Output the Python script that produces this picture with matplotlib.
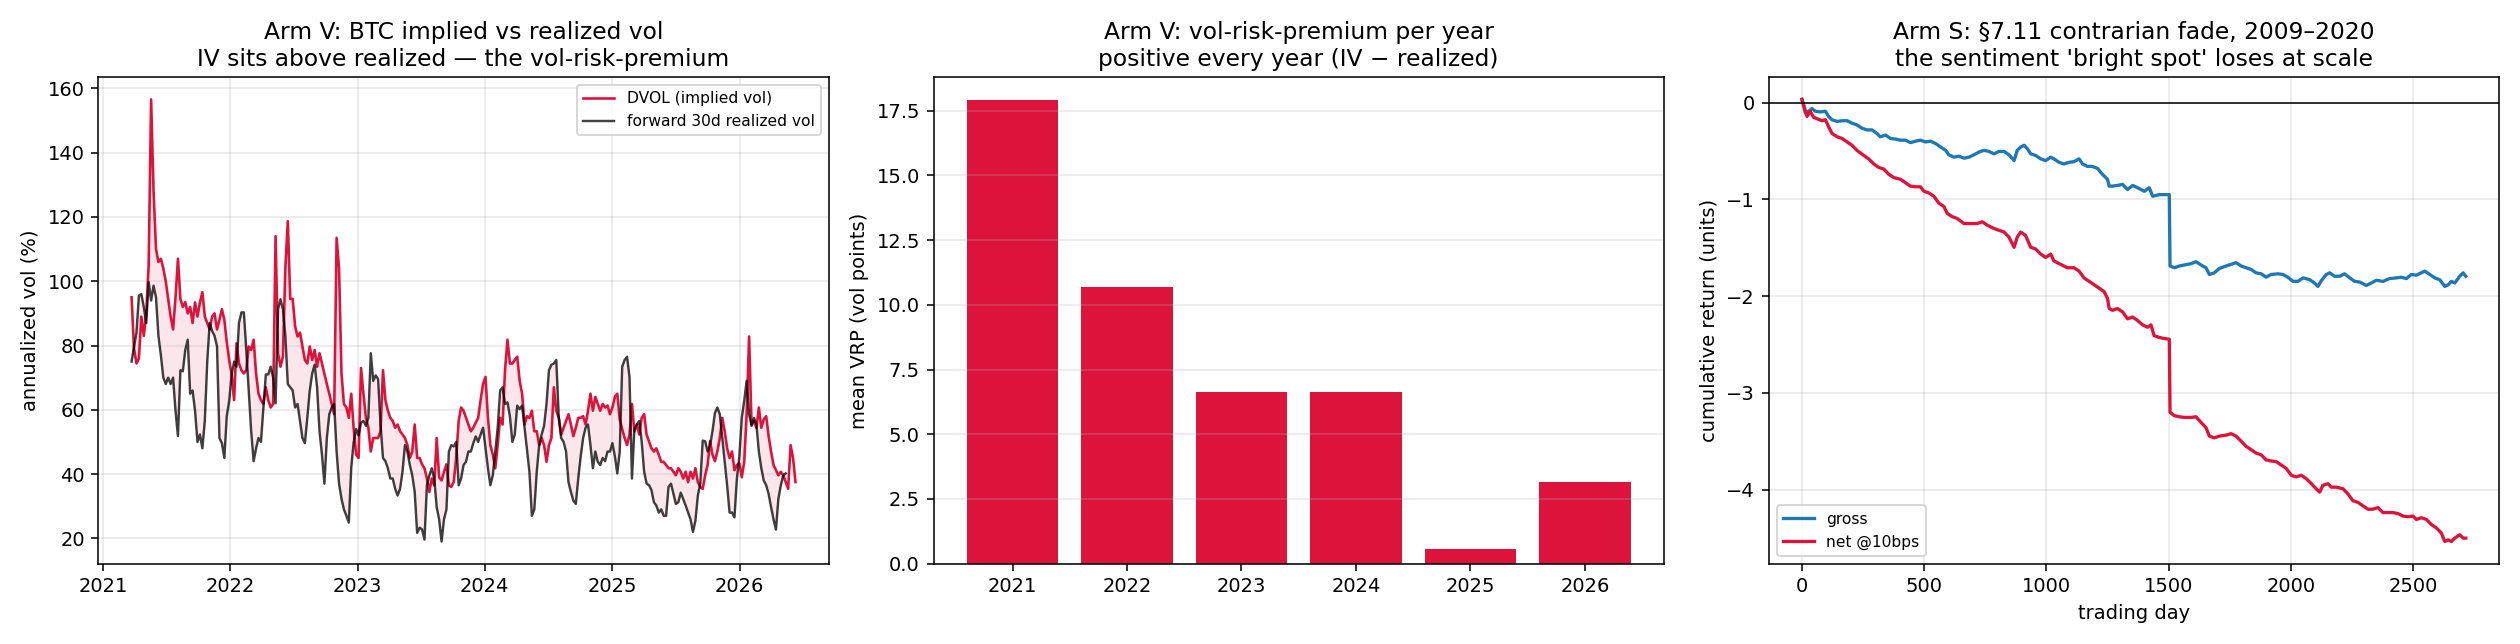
import numpy as np
import pandas as pd
import matplotlib
matplotlib.use('Agg')
import matplotlib.pyplot as plt

# --- Arm V: weekly DVOL vs forward 30d realized vol (from 2021-03-24) ---
dvol = [95, 79, 74.4, 76, 89, 83, 90, 105, 156.6, 128, 110, 106, 107, 104, 100, 94.5, 89, 85, 95, 107,
        94.5, 92, 93.5, 90, 92, 87, 93.4, 89, 93.4, 96.6, 89, 87, 85, 89, 90, 85, 88, 91.3, 88, 81,
        75.4, 71, 63, 80.7, 74.4, 72.3, 71.3, 72.3, 79.7, 78.6, 81.8, 71.3, 65, 63, 61.8, 67, 63, 60.7, 61.8, 114,
        77.6, 73.4, 76.5, 104, 118.7, 94.5, 94.5, 86, 82.8, 84, 79.7, 75.5, 74.4, 79.7, 75.5, 78.6, 73.4, 77.6, 74.4, 71.3,
        68, 65, 61.8, 58.6, 113.5, 104, 71.3, 61.8, 60.7, 57.5, 65, 54, 46, 45, 73, 65, 57.5, 54.4, 47, 51.2,
        51.2, 51.2, 53.3, 72.3, 63, 59.7, 57.5, 56.5, 54.4, 55.4, 53.3, 52.3, 51.2, 49, 45, 47, 55.4, 45, 45, 43,
        41.8, 38.6, 34.4, 38.6, 36.5, 51.2, 39, 38, 40.7, 43, 36.5, 36, 37.6, 45, 56.5, 60.7, 59.7, 57.5, 55.4, 53.3,
        54.4, 56, 57.5, 63, 68, 70.2, 57.5, 49, 46, 41.8, 49, 57.5, 55.4, 72.3, 81.8, 74.4, 74.4, 75.5, 76.5, 69,
        65, 55.4, 58, 57.5, 59.7, 53.3, 53.3, 49, 51.2, 49, 43.8, 49, 51.2, 67, 59.7, 57.5, 52.3, 54.4, 56.5, 58.6,
        55.4, 51.8, 54.4, 57.5, 57.5, 58, 55.4, 59.7, 65, 59.7, 64, 61.8, 59.7, 61.8, 60.7, 61.3, 58.6, 60.7, 64, 65,
        57, 54, 51.2, 49, 52.3, 61.8, 53.3, 55.4, 52.3, 57.5, 58.6, 52.3, 50.2, 48, 47, 48, 46, 43.8, 43.8, 42.8,
        41.8, 41.8, 40.7, 39.6, 41.8, 40.7, 38.6, 40.7, 37.5, 40.7, 38.6, 41.8, 37.5, 36, 35.4, 39.6, 42.8, 50.2, 46, 44,
        47, 51.2, 57.5, 53.3, 48, 45, 47, 41.2, 42.8, 43.3, 39, 43.8, 58.6, 82.8, 55.4, 56.5, 54.4, 60.7, 54.4, 57,
        58, 51.8, 47, 42.8, 41.2, 39.6, 40.7, 39.6, 37.5, 35.4, 49, 45, 37.5]
rv = [75, 79.7, 84, 95.5, 96, 92, 87, 99.7, 94, 98.6, 95, 83, 77, 70, 68, 70, 68, 70, 59.7, 51.8,
      72.3, 72, 78.6, 81.8, 65, 66, 59.7, 50, 52.3, 48, 56.5, 75, 87, 84.5, 83, 79.7, 51.2, 49.6, 45, 58,
      62.8, 71, 75, 73.4, 87, 90.3, 90.3, 78.6, 66, 53.3, 44, 48, 51.2, 50, 60.7, 71, 71, 73.4, 70, 62,
      91.3, 94.4, 91.3, 83, 68, 67, 66, 60.7, 61.8, 56.5, 51.2, 49.6, 57.5, 66, 71.3, 74, 67, 53.3, 46, 37,
      51.2, 58.6, 60.7, 61.8, 47, 37, 32.3, 29, 27, 24.9, 42, 50, 54, 52, 56, 56.5, 55, 57.5, 77.6, 69,
      70.7, 69.6, 55.4, 45, 44, 41.8, 38.6, 38.6, 35.4, 33.3, 35.4, 40.7, 49, 47, 42.8, 39.6, 34.4, 21.7, 23.3, 22.8,
      19.6, 36.5, 39.6, 41.8, 38.6, 29.7, 25.9, 19, 25.9, 29, 47, 49, 48.6, 50, 36.5, 38.6, 42.8, 43.8, 47, 47,
      49.6, 51.7, 50, 52.3, 54.4, 48, 41.8, 36.5, 39.6, 47, 54.4, 66, 67, 61.8, 62.3, 58, 50, 52.3, 61.3, 60.2,
      61.3, 54.4, 47.5, 40.7, 27, 29, 40.7, 49, 52.3, 55, 61.8, 72.3, 74, 74.4, 75.5, 58, 51.2, 50, 47, 37.5,
      34.4, 31.7, 30.7, 38.6, 45.5, 51.2, 54.4, 55.4, 49, 41.8, 47, 43.8, 42.8, 45, 44, 47, 47, 49.6, 45.5, 40.2,
      47, 73.4, 75.5, 76.5, 70.2, 38.6, 53.8, 55.4, 56.5, 50, 40.7, 37, 36.5, 35, 31.2, 30.2, 28, 29, 27, 27,
      36, 37, 33.8, 30.7, 31.2, 34.2, 32.2, 30.2, 28, 25.9, 22, 25.4, 33.3, 37, 50.4, 50.2, 47, 49, 53.3, 59,
      60.7, 58.6, 51.2, 43.8, 36.5, 28, 28, 26.5, 38.6, 45.4, 57.5, 62.8, 69, 58.6, 55, 57.5, 55.4, 47, 41.8, 38,
      36.5, 33.8, 29.7, 25.9, 22.7, 32.3, 36.5, 39.6, 40.2]

# --- Arm V: mean VRP per calendar year ---
vrp_years = ['2021', '2022', '2023', '2024', '2025', '2026']
vrp_mean = [17.9, 10.7, 6.65, 6.65, 0.55, 3.15]

# --- Arm S: cumulative return by trading day ---
gross_day = [0, 14, 27, 41, 55, 75, 96, 109, 123, 144, 164, 185, 205, 225, 246, 267, 287, 307, 321, 342,
             362, 383, 403, 424, 444, 465, 485, 506, 526, 547, 567, 588, 601, 622, 642, 663, 683, 704, 724, 745,
             765, 786, 806, 827, 847, 868, 881, 895, 909, 922, 936, 956, 977, 997, 1018, 1031, 1052, 1072, 1093, 1113,
             1134, 1148, 1168, 1188, 1209, 1229, 1250, 1257, 1271, 1291, 1312, 1332, 1353, 1373, 1401, 1421, 1435, 1462, 1496, 1503,
             1506, 1524, 1544, 1564, 1592, 1612, 1633, 1653, 1667, 1687, 1708, 1735, 1756, 1776, 1797, 1817, 1838, 1858, 1879, 1899,
             1919, 1947, 1968, 1988, 2009, 2029, 2050, 2077, 2097, 2111, 2125, 2145, 2159, 2179, 2200, 2220, 2241, 2261, 2282, 2309,
             2329, 2350, 2377, 2404, 2432, 2452, 2473, 2493, 2514, 2534, 2548, 2569, 2589, 2609, 2630, 2644, 2657, 2671, 2691, 2705, 2716]
gross = [0.035, -0.106, -0.088, -0.06, -0.088, -0.095, -0.088, -0.141, -0.176, -0.193, -0.186, -0.186, -0.211, -0.229, -0.264, -0.281, -0.281, -0.317, -0.352, -0.334,
         -0.369, -0.376, -0.387, -0.387, -0.412, -0.397, -0.387, -0.405, -0.397, -0.422, -0.457, -0.492, -0.538, -0.563, -0.552, -0.573, -0.563, -0.538, -0.51, -0.492,
         -0.503, -0.528, -0.503, -0.503, -0.538, -0.598, -0.492, -0.457, -0.44, -0.475, -0.528, -0.545, -0.58, -0.598, -0.563, -0.58, -0.616, -0.633, -0.616, -0.609,
         -0.58, -0.633, -0.658, -0.658, -0.679, -0.739, -0.791, -0.862, -0.862, -0.855, -0.844, -0.897, -0.855, -0.879, -0.915, -0.879, -0.967, -0.95, -0.95, -0.95,
         -1.688, -1.706, -1.688, -1.678, -1.664, -1.643, -1.678, -1.706, -1.776, -1.759, -1.713, -1.688, -1.671, -1.653, -1.688, -1.706, -1.724, -1.759, -1.769, -1.804,
         -1.776, -1.769, -1.776, -1.804, -1.847, -1.847, -1.811, -1.829, -1.864, -1.899, -1.84, -1.776, -1.759, -1.794, -1.794, -1.769, -1.811, -1.847, -1.854, -1.889,
         -1.864, -1.836, -1.847, -1.818, -1.811, -1.804, -1.818, -1.776, -1.783, -1.759, -1.741, -1.776, -1.811, -1.829, -1.899, -1.882, -1.847, -1.864, -1.794, -1.759, -1.794]
net_day = [0, 21, 34, 48, 82, 96, 109, 123, 144, 164, 185, 205, 225, 253, 273, 294, 314, 335, 355, 376,
           403, 424, 444, 465, 485, 499, 519, 540, 560, 581, 594, 615, 635, 663, 690, 717, 738, 758, 786, 806,
           827, 847, 868, 881, 895, 915, 936, 956, 977, 997, 1018, 1031, 1059, 1086, 1113, 1134, 1154, 1175, 1195, 1216,
           1236, 1250, 1257, 1271, 1291, 1312, 1332, 1353, 1373, 1394, 1414, 1428, 1441, 1462, 1482, 1503, 1506, 1524, 1544, 1564,
           1592, 1612, 1633, 1653, 1667, 1687, 1708, 1735, 1756, 1776, 1797, 1817, 1838, 1858, 1879, 1899, 1919, 1940, 1961, 1981,
           2002, 2022, 2043, 2063, 2084, 2104, 2118, 2131, 2152, 2166, 2186, 2214, 2234, 2254, 2275, 2295, 2316, 2336, 2357, 2377,
           2398, 2418, 2439, 2459, 2480, 2500, 2514, 2534, 2555, 2575, 2596, 2616, 2630, 2644, 2657, 2671, 2691, 2705, 2716]
net = [0.035, -0.141, -0.088, -0.151, -0.186, -0.176, -0.246, -0.317, -0.352, -0.369, -0.405, -0.44, -0.492, -0.545, -0.58, -0.633, -0.668, -0.686, -0.739, -0.774,
       -0.791, -0.827, -0.862, -0.869, -0.869, -0.915, -0.932, -0.967, -1.038, -1.073, -1.143, -1.178, -1.196, -1.249, -1.249, -1.249, -1.231, -1.266, -1.301, -1.319,
       -1.337, -1.389, -1.495, -1.389, -1.337, -1.372, -1.495, -1.512, -1.565, -1.6, -1.565, -1.636, -1.671, -1.706, -1.706, -1.741, -1.811, -1.847, -1.882, -1.917,
       -1.952, -2.022, -2.128, -2.146, -2.128, -2.163, -2.234, -2.216, -2.251, -2.297, -2.321, -2.297, -2.409, -2.427, -2.438, -2.445, -3.201, -3.236, -3.247, -3.254,
       -3.254, -3.247, -3.306, -3.359, -3.447, -3.465, -3.447, -3.437, -3.422, -3.447, -3.5, -3.553, -3.588, -3.623, -3.641, -3.693, -3.704, -3.711, -3.746, -3.781,
       -3.852, -3.869, -3.852, -3.887, -3.939, -3.992, -4.027, -3.957, -3.939, -3.975, -3.975, -3.992, -4.045, -4.115, -4.133, -4.168, -4.203, -4.203, -4.186, -4.238,
       -4.238, -4.238, -4.249, -4.274, -4.281, -4.274, -4.309, -4.291, -4.309, -4.362, -4.397, -4.45, -4.537, -4.52, -4.537, -4.502, -4.467, -4.502, -4.502]

RED = '#DC143C'

fig, axes = plt.subplots(1, 3, figsize=(18, 4.6), dpi=140)

# panel 1: implied vs realized
ax = axes[0]
dates = pd.date_range('2021-03-24', periods=len(dvol), freq='7D')
ax.plot(dates, dvol, color=RED, lw=1.35, label='DVOL (implied vol)')
ax.plot(dates[:len(rv)], rv, color='black', lw=1.25, alpha=0.75, label='forward 30d realized vol')
ax.fill_between(dates[:len(rv)], rv, dvol[:len(rv)], color=RED, alpha=0.1, lw=0)
ax.set_ylabel('annualized vol (%)')
ax.set_title('Arm V: BTC implied vs realized vol\nIV sits above realized \u2014 the vol-risk-premium')
ax.legend(loc='upper right', fontsize=8)
ax.grid(alpha=0.3)

# panel 2: VRP per year
ax = axes[1]
ax.bar(vrp_years, vrp_mean, color=RED)
ax.set_ylabel('mean VRP (vol points)')
ax.set_title('Arm V: vol-risk-premium per year\npositive every year (IV \u2212 realized)')
ax.grid(axis='y', alpha=0.3)

# panel 3: contrarian fade
ax = axes[2]
ax.plot(gross_day, gross, color='#1f77b4', lw=1.7, label='gross')
ax.plot(net_day, net, color=RED, lw=1.7, label='net @10bps')
ax.axhline(0, color='black', lw=0.8)
ax.set_xlabel('trading day')
ax.set_ylabel('cumulative return (units)')
ax.set_title("Arm S: \u00a77.11 contrarian fade, 2009\u20132020\nthe sentiment 'bright spot' loses at scale")
ax.legend(loc='lower left', fontsize=8)
ax.grid(alpha=0.3)

plt.tight_layout()
plt.savefig('out.png', dpi=140)
